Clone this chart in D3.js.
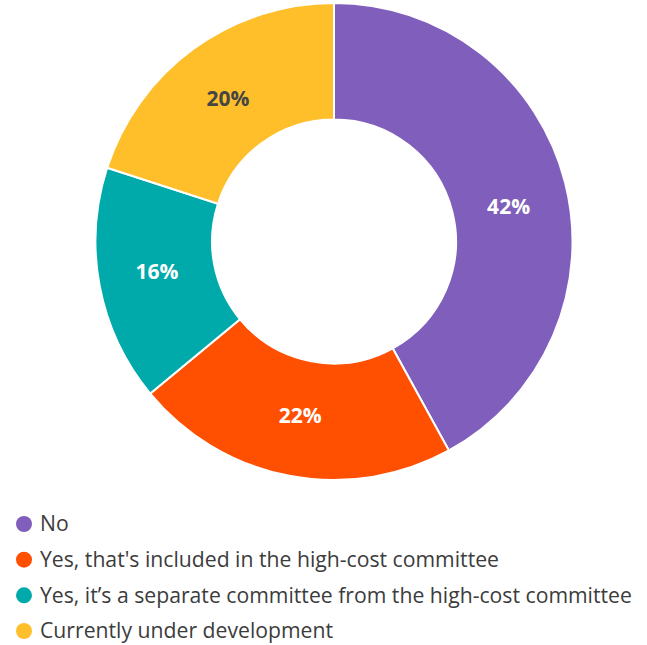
<!DOCTYPE html>
<html><head><meta charset="utf-8">
<script src="https://cdn.jsdelivr.net/npm/d3@7"></script>
<style>body{margin:0;background:#fff}svg{display:block}</style>
</head><body>
<script>
const categories = ["No", "Yes, that's included in the high-cost committee", "Yes, it\u2019s a separate committee from the high-cost committee", "Currently under development"];
const values = [42, 22, 16, 20];
const colors = ["#7f5fbb", "#ff4f00", "#00aaaa", "#ffbf2a"];
const labelColors = ["#ffffff", "#ffffff", "#ffffff", "#454545"];
const labelNudge = [10, -3, -4, 3];

const W = 647, H = 645;
const svg = d3.select("body").append("svg").attr("width", W).attr("height", H);
const cx = 334, cy = 241.5, R = 238.5, r = 122;
const pie = d3.pie().sort(null).value(d => d)(values);
const arc = d3.arc().innerRadius(r).outerRadius(R);
const g = svg.append("g").attr("transform", `translate(${cx},${cy})`);
g.selectAll("path").data(pie).join("path")
  .attr("d", arc).attr("fill", (d,i) => colors[i])
  .attr("stroke", "#fff").attr("stroke-width", 2);
g.selectAll("text").data(pie).join("text")
  .attr("transform", (d,i) => { const c = arc.centroid(d); return `translate(${c[0]},${c[1] + labelNudge[i]})`; })
  .attr("text-anchor", "middle").attr("dy", "0.36em")
  .attr("font-family", "'Open Sans', sans-serif").attr("font-weight", "bold").attr("font-size", 21)
  .attr("fill", (d,i) => labelColors[i])
  .text(d => d.data + "%");

const y = d3.scalePoint().domain(categories).range([524, 631]);
const lg = svg.append("g");
const items = lg.selectAll("g").data(categories).join("g")
  .attr("transform", d => `translate(0,${y(d)})`);
items.append("circle").attr("cx", 24).attr("cy", 0).attr("r", 8).attr("fill", (d,i) => colors[i]);
items.append("text").attr("x", 40).attr("dy", "0.35em")
  .attr("font-family", "'Open Sans', sans-serif").attr("font-size", 21.2).attr("fill", "#3c3c3c")
  .text(d => d);
</script>
</body></html>
